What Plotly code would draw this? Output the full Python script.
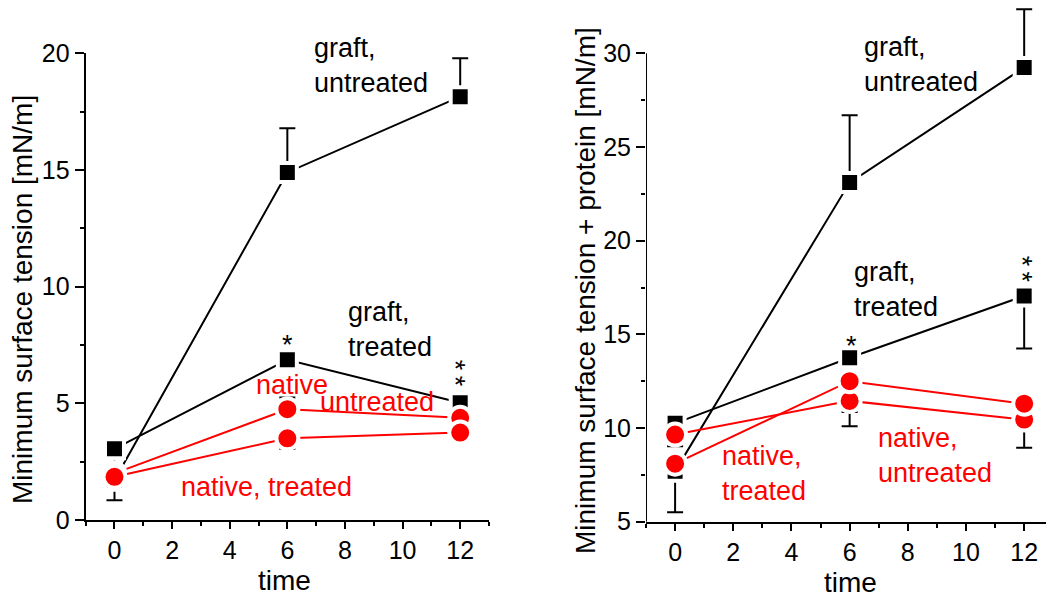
import plotly.graph_objects as go

# Sampling times
time = [0, 6, 12]

# Minimum surface tension [mN/m]
graft_untreated = [1.7, 14.9, 18.15]
graft_untreated_up = [0.95, 1.9, 1.65]
graft_untreated_down = [0.85, 0, 0]

graft_treated = [3.05, 6.87, 5.03]
graft_treated_up = [0, 0, 0]
graft_treated_down = [0, 0, 1.1]

native_untreated = [2.0, 4.75, 4.38]
native_untreated_up = [0, 0.5, 0]
native_untreated_down = [0, 0, 0]

native_treated = [1.85, 3.5, 3.75]
native_treated_up = [0, 0, 0]
native_treated_down = [0, 0.45, 0.4]

# Minimum surface tension + protein [mN/m]
p_graft_untreated = [7.7, 23.1, 29.25]
p_graft_untreated_up = [0, 3.6, 3.1]
p_graft_untreated_down = [2.2, 0, 0]

p_graft_treated = [10.25, 13.75, 17.05]
p_graft_treated_up = [0, 0, 0]
p_graft_treated_down = [1.22, 2.9, 2.8]

p_native_untreated = [9.65, 11.45, 10.45]
p_native_untreated_up = [0, 0, 0]
p_native_untreated_down = [0, 1.35, 1.5]

p_native_treated = [8.1, 12.5, 11.3]
p_native_treated_up = [0, 0, 0]
p_native_treated_down = [0, 0, 0]

x_ticks = [0, 2, 4, 6, 8, 10, 12]
x_minor = [-1, 1, 3, 5, 7, 9, 11, 13]
y1_ticks = [0, 5, 10, 15, 20]
y1_minor = [2.5, 7.5, 12.5, 17.5]
y2_ticks = [5, 10, 15, 20, 25, 30]
y2_minor = [7.5, 12.5, 17.5, 22.5, 27.5]

FONT = "Arial, Liberation Sans, sans-serif"
BLACK = "#000000"
RED = "#ff0000"
W, H = 1046, 599

fig = go.Figure()


def add_series(x, y, up, down, color, symbol, size, xa, ya, name):
    fig.add_trace(go.Scatter(
        x=x, y=y, name=name, mode="lines+markers",
        xaxis=xa, yaxis=ya,
        line=dict(color=color, width=2),
        marker=dict(symbol=symbol, size=size, color=color,
                    line=dict(color="white", width=4)),
        error_y=dict(type="data", symmetric=False, array=up, arrayminus=down,
                     color=BLACK, thickness=2, width=8),
        showlegend=False, cliponaxis=False,
    ))


# Left panel
add_series(time, graft_untreated, graft_untreated_up, graft_untreated_down,
           BLACK, "square", 19, "x", "y", "graft, untreated")
add_series(time, graft_treated, graft_treated_up, graft_treated_down,
           BLACK, "square", 19, "x", "y", "graft, treated")
add_series(time, native_untreated, native_untreated_up, native_untreated_down,
           RED, "circle", 22, "x", "y", "native, untreated")
add_series(time, native_treated, native_treated_up, native_treated_down,
           RED, "circle", 22, "x", "y", "native, treated")

# Right panel
add_series(time, p_graft_untreated, p_graft_untreated_up, p_graft_untreated_down,
           BLACK, "square", 19, "x2", "y2", "graft, untreated")
add_series(time, p_graft_treated, p_graft_treated_up, p_graft_treated_down,
           BLACK, "square", 19, "x2", "y2", "graft, treated")
add_series(time, p_native_untreated, p_native_untreated_up, p_native_untreated_down,
           RED, "circle", 22, "x2", "y2", "native, untreated")
add_series(time, p_native_treated, p_native_treated_up, p_native_treated_down,
           RED, "circle", 22, "x2", "y2", "native, treated")

tick_font = dict(family=FONT, size=25, color=BLACK)

xcommon = dict(
    tickvals=x_ticks, ticks="outside", ticklen=7, tickwidth=2, tickcolor=BLACK,
    showline=True, linecolor=BLACK, linewidth=2, showgrid=False, zeroline=False,
    tickfont=tick_font, fixedrange=True, automargin=False,
    minor=dict(tickvals=x_minor, ticks="outside", ticklen=4, tickwidth=2, tickcolor=BLACK),
)
ycommon = dict(
    ticks="outside", ticklen=9, tickwidth=2, tickcolor=BLACK,
    linecolor=BLACK, linewidth=2, showgrid=False, zeroline=False,
    tickfont=tick_font, fixedrange=True, automargin=False,
)

fig.update_layout(
    width=W, height=H,
    margin=dict(l=0, r=0, t=0, b=0, pad=0, autoexpand=False),
    paper_bgcolor="white", plot_bgcolor="white",
    font=dict(family=FONT, color=BLACK),
    xaxis=dict(domain=[0.0819, 0.4675], range=[-1, 13], anchor="y", **xcommon),
    yaxis=dict(domain=[0.1319, 0.9107], range=[0, 20], anchor="x", showline=True,
               tickvals=y1_ticks,
               minor=dict(tickvals=y1_minor, ticks="outside", ticklen=4, tickwidth=2,
                          tickcolor=BLACK),
               **ycommon),
    xaxis2=dict(domain=[0.6176, 1.0], range=[-1, 12.75], anchor="y2", **xcommon),
    yaxis2=dict(domain=[0.129, 0.9923], range=[5, 32.6], anchor="x2", showline=False,
                tickvals=y2_ticks,
                minor=dict(tickvals=y2_minor, ticks="outside", ticklen=4, tickwidth=2,
                           tickcolor=BLACK),
                **ycommon),
)

# Right-hand vertical axis line, ending at the top tick
fig.add_shape(type="line", xref="x2", yref="y2", x0=-1, x1=-1,
              y0=y2_ticks[0], y1=y2_ticks[-1],
              line=dict(color=BLACK, width=2))

LBL = 27


def label(text, x, y, color, xref, yref, xanchor="left", size=LBL, angle=0, xshift=0):
    fig.add_annotation(text=text, x=x, y=y, xref=xref, yref=yref,
                       xanchor=xanchor, yanchor="middle", showarrow=False,
                       align="left", textangle=angle, xshift=xshift,
                       font=dict(family=FONT, size=size, color=color))


# Significance marks: single star, and a double star set on its side
STAR = "*"
STARS = "*\u2009*"

# Left panel labels
label("graft,<br>untreated", 6.86, 19.5, BLACK, "x", "y")
label("graft,<br>treated", 8.03, 8.15, BLACK, "x", "y")
label("native", 4.83, 5.79, RED, "x", "y")
label("untreated", 7.07, 5.06, RED, "x", "y")
label("native, treated", 2.24, 1.42, RED, "x", "y")
label(STAR, 6.0, 7.5, BLACK, "x", "y", xanchor="center")
label(STARS, 12.0, 6.3, BLACK, "x", "y", xanchor="center", angle=90, xshift=-5)

# Right panel labels
label("graft,<br>untreated", 6.43, 29.4, BLACK, "x2", "y2")
label("graft,<br>treated", 6.08, 17.37, BLACK, "x2", "y2")
label("native,<br>treated", 1.55, 7.6, RED, "x2", "y2")
label("native,<br>untreated", 6.9, 8.53, RED, "x2", "y2")
label(STAR, 6.05, 14.4, BLACK, "x2", "y2", xanchor="center")
label(STARS, 12.1, 18.5, BLACK, "x2", "y2", xanchor="center", angle=90, xshift=-5)


def title(text, px, py, angle=0):
    # px, py are pixel offsets from the top-left corner of the figure
    fig.add_annotation(text=text, x=px / W, y=1 - py / H, xref="paper", yref="paper",
                       xanchor="center", yanchor="middle", showarrow=False,
                       textangle=angle, font=dict(family=FONT, size=28, color=BLACK))


title("Minimum surface tension [mN/m]", 22, 300, -90)
title("Minimum surface tension + protein [mN/m]", 585, 291, -90)
title("time", 284, 580)
title("time", 850, 582)

fig.write_html("out.html")
